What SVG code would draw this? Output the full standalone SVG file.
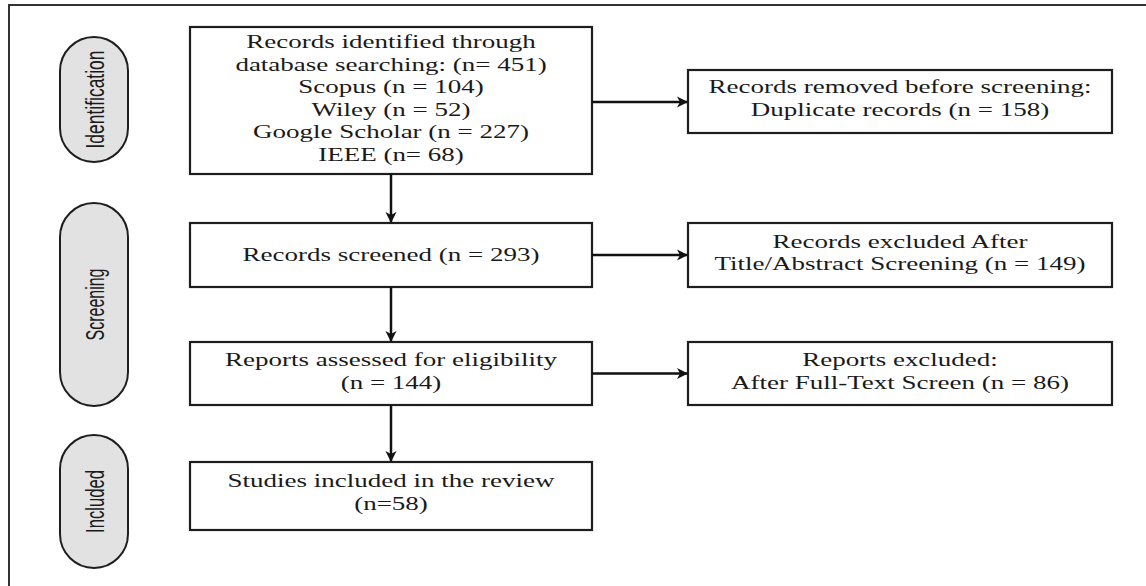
<svg xmlns="http://www.w3.org/2000/svg" width="1146" height="586" viewBox="0 0 1146 586">
<style>
.box{fill:#fff;stroke:#1e1e1e;stroke-width:2.2}
.pill{fill:#e2e2e2;stroke:#1e1e1e;stroke-width:2}
.t{font-family:"Liberation Serif","Times New Roman",serif;font-size:18px;fill:#1a1a1a;text-anchor:middle}
.s{font-family:"Liberation Sans",Arial,sans-serif;font-size:17.5px;fill:#1a1a1a;text-anchor:middle}
.c{stroke:#111;stroke-width:2.5;fill:none}
</style>
<defs>
<marker id="ah" markerUnits="userSpaceOnUse" markerWidth="14" markerHeight="14" refX="11" refY="7" orient="auto">
<path d="M1,1.5 L12,7 L1,12.5 L4,7 z" fill="#111"/>
</marker>
</defs>
<rect x="9" y="5" width="1160" height="600" fill="none" stroke="#333" stroke-width="2"/>

<g id="phase-identification">
<rect class="pill" x="60" y="37" width="68" height="125" rx="34" ry="34"/>
<text class="s" transform="translate(104,99.5) scale(1.5,1) rotate(-90)" textLength="98" lengthAdjust="spacingAndGlyphs">Identification</text>
</g>
<g id="phase-screening">
<rect class="pill" x="60" y="203" width="68" height="203" rx="34" ry="34"/>
<text class="s" transform="translate(104,304.5) scale(1.5,1) rotate(-90)" textLength="72" lengthAdjust="spacingAndGlyphs">Screening</text>
</g>
<g id="phase-included">
<rect class="pill" x="60" y="435" width="68" height="133" rx="34" ry="34"/>
<text class="s" transform="translate(104,501.5) scale(1.5,1) rotate(-90)" textLength="63" lengthAdjust="spacingAndGlyphs">Included</text>
</g>

<g id="identified">
<rect class="box" x="190" y="27" width="402" height="147"/>
<text class="t" transform="translate(391,48) scale(1.5,1)">Records identified through</text>
<text class="t" transform="translate(391,70.5) scale(1.5,1)">database searching: (n= 451)</text>
<text class="t" transform="translate(391,93) scale(1.5,1)">Scopus (n = 104)</text>
<text class="t" transform="translate(391,115.5) scale(1.5,1)">Wiley (n = 52)</text>
<text class="t" transform="translate(391,138) scale(1.5,1)">Google Scholar (n = 227)</text>
<text class="t" transform="translate(391,160.5) scale(1.5,1)">IEEE (n= 68)</text>
</g>
<g id="removed">
<rect class="box" x="688" y="70" width="424" height="63"/>
<text class="t" transform="translate(900,93) scale(1.5,1)">Records removed before screening:</text>
<text class="t" transform="translate(900,115.5) scale(1.5,1)">Duplicate records (n = 158)</text>
</g>
<g id="screened">
<rect class="box" x="190" y="223" width="402" height="64"/>
<text class="t" transform="translate(391,261) scale(1.5,1)">Records screened (n = 293)</text>
</g>
<g id="excluded-title">
<rect class="box" x="688" y="223" width="424" height="64"/>
<text class="t" transform="translate(900,247.5) scale(1.5,1)">Records excluded After</text>
<text class="t" transform="translate(900,270) scale(1.5,1)">Title/Abstract Screening (n = 149)</text>
</g>
<g id="assessed">
<rect class="box" x="190" y="342" width="402" height="63"/>
<text class="t" transform="translate(391,365.5) scale(1.5,1)">Reports assessed for eligibility</text>
<text class="t" transform="translate(391,389) scale(1.5,1)">(n = 144)</text>
</g>
<g id="excluded-fulltext">
<rect class="box" x="688" y="342" width="424" height="63"/>
<text class="t" transform="translate(900,365.5) scale(1.5,1)">Reports excluded:</text>
<text class="t" transform="translate(900,389) scale(1.5,1)">After Full-Text Screen (n = 86)</text>
</g>
<g id="included">
<rect class="box" x="190" y="462" width="402" height="68"/>
<text class="t" transform="translate(391,487) scale(1.5,1)">Studies included in the review</text>
<text class="t" transform="translate(391,510) scale(1.5,1)">(n=58)</text>
</g>

<g id="connectors">
<line class="c" x1="391" y1="174" x2="391" y2="222" marker-end="url(#ah)"/>
<line class="c" x1="391" y1="287" x2="391" y2="341" marker-end="url(#ah)"/>
<line class="c" x1="391" y1="405" x2="391" y2="461" marker-end="url(#ah)"/>
<line class="c" x1="592" y1="102" x2="687" y2="102" marker-end="url(#ah)"/>
<line class="c" x1="592" y1="255" x2="687" y2="255" marker-end="url(#ah)"/>
<line class="c" x1="592" y1="373.5" x2="687" y2="373.5" marker-end="url(#ah)"/>
</g>
</svg>
